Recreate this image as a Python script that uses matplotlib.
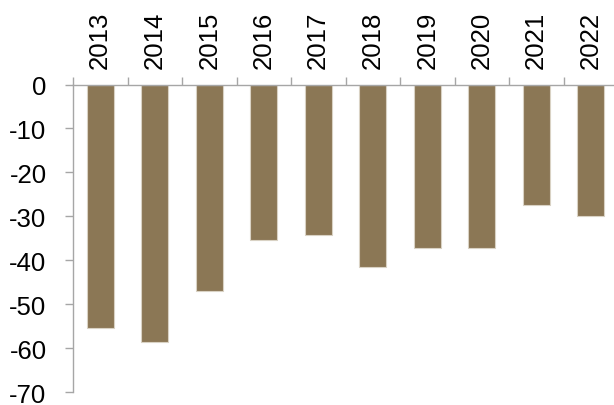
import matplotlib
matplotlib.use("Agg")
import matplotlib.pyplot as plt

years = ["2013", "2014", "2015", "2016", "2017", "2018", "2019", "2020", "2021", "2022"]
values = [-55.4, -58.5, -46.9, -35.4, -34.3, -41.6, -37.1, -37.2, -27.3, -29.8]
y_ticks = [0, -10, -20, -30, -40, -50, -60, -70]

plt.rcParams["font.family"] = ["Liberation Sans", "DejaVu Sans"]

W, H = 614, 406
fig = plt.figure(figsize=(W / 100, H / 100), dpi=100)
left, right, top, bottom = 73, 618, 85.5, 393.3
ax = fig.add_axes([left / W, 1 - bottom / H, (right - left) / W, (bottom - top) / H])

x = range(len(years))
ax.bar(x, values, width=0.5, color="#8b7755", edgecolor="#d9d2c4", linewidth=0.8, zorder=2)

ax.set_xlim(-0.5, len(years) - 0.5)
ax.set_ylim(-70, 0)
ax.set_yticks(y_ticks)
ax.set_yticklabels([str(v) for v in y_ticks], fontsize=18.5, color="black")

# category axis sits on the zero line at the top
ax.set_xticks([i - 0.5 for i in x], minor=False)
ax.set_xticklabels([])
ax.set_xticks(list(x), minor=True)
ax.set_xticklabels(years, minor=True, rotation=90, fontsize=18.5)
ax.xaxis.tick_top()
ax.tick_params(axis="x", which="major", direction="out", length=6, width=1, color="#a6a6a6", top=True, bottom=False)
ax.tick_params(axis="x", which="minor", length=0, pad=12, top=True, bottom=False, labeltop=True, labelbottom=False)
ax.tick_params(axis="y", direction="out", length=6, width=1, color="#a6a6a6", pad=13)

for side in ("right", "bottom"):
    ax.spines[side].set_visible(False)
for side in ("left", "top"):
    ax.spines[side].set_color("#a6a6a6")
    ax.spines[side].set_linewidth(1)

fig.savefig("out.png", dpi=100)
